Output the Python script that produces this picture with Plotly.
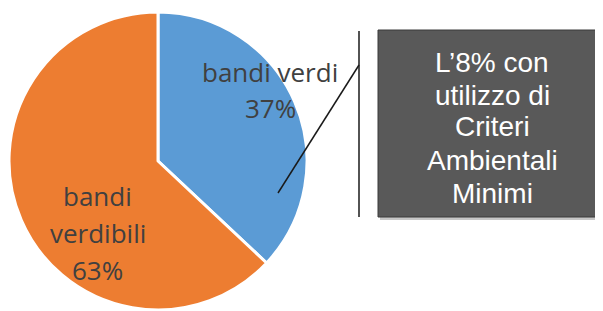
import plotly.graph_objects as go

# ---- data ----
categories = ["bandi verdi", "bandi verdibili"]
values = [37, 63]
colors = ["#5B9BD5", "#ED7D31"]
callout_lines = ["L’8% con", "utilizzo di", "Criteri", "Ambientali", "Minimi"]

W, H = 603, 311
OFF = 8  # page body margin


def px(x):
    return (x - OFF) / W


def py(y):
    return 1 - (y - OFF) / H


# pie geometry (page pixels)
cx, cy, r = 158, 161, 149

fig = go.Figure()
fig.add_trace(go.Pie(
    labels=categories,
    values=values,
    sort=False,
    direction="clockwise",
    rotation=0,
    marker=dict(colors=colors, line=dict(color="white", width=3)),
    textinfo="none",
    hoverinfo="none",
    showlegend=False,
    domain=dict(x=[px(cx - r), px(cx + r)], y=[py(cy + r), py(cy - r)]),
))

total = sum(values)
pct = [f"{round(v / total * 100)}%" for v in values]

label_font = dict(family="Open Sans", size=26, color="#404040")
annotations = []
blue_lines = [categories[0], pct[0]]
for t, y in zip(blue_lines, [72, 108]):
    annotations.append(dict(x=px(270), y=py(y), xref="paper", yref="paper",
                            text=t, showarrow=False, font=label_font,
                            xanchor="center", yanchor="middle"))
orange_lines = categories[1].split(" ") + [pct[1]]
for t, y in zip(orange_lines, [196, 233, 270]):
    annotations.append(dict(x=px(98), y=py(y), xref="paper", yref="paper",
                            text=t, showarrow=False, font=label_font,
                            xanchor="center", yanchor="middle"))

box_font = dict(family="Liberation Sans", size=28, color="white")
for t, y in zip(callout_lines, [62, 95, 127, 160, 193]):
    annotations.append(dict(x=px(492), y=py(y), xref="paper", yref="paper",
                            text=t, showarrow=False, font=box_font,
                            xanchor="center", yanchor="middle"))

shapes = [
    dict(type="rect", xref="paper", yref="paper",
         x0=px(380), x1=px(612), y0=py(220), y1=py(32),
         fillcolor="rgba(0,0,0,0.22)", line=dict(width=0), layer="above"),
    dict(type="rect", xref="paper", yref="paper",
         x0=px(378), x1=px(610), y0=py(217), y1=py(30),
         fillcolor="#595959", line=dict(color="#3a3a3a", width=1), layer="above"),
    dict(type="line", xref="paper", yref="paper",
         x0=px(359), x1=px(359), y0=py(31), y1=py(217),
         line=dict(color="#1a1a1a", width=1.5)),
    dict(type="line", xref="paper", yref="paper",
         x0=px(359), x1=px(278), y0=py(65), y1=py(193),
         line=dict(color="#1a1a1a", width=1.5), layer="above"),
]

fig.update_layout(
    width=W, height=H,
    margin=dict(l=0, r=0, t=0, b=0),
    paper_bgcolor="white",
    plot_bgcolor="white",
    annotations=annotations,
    shapes=shapes,
)

fig.write_html("out.html")
